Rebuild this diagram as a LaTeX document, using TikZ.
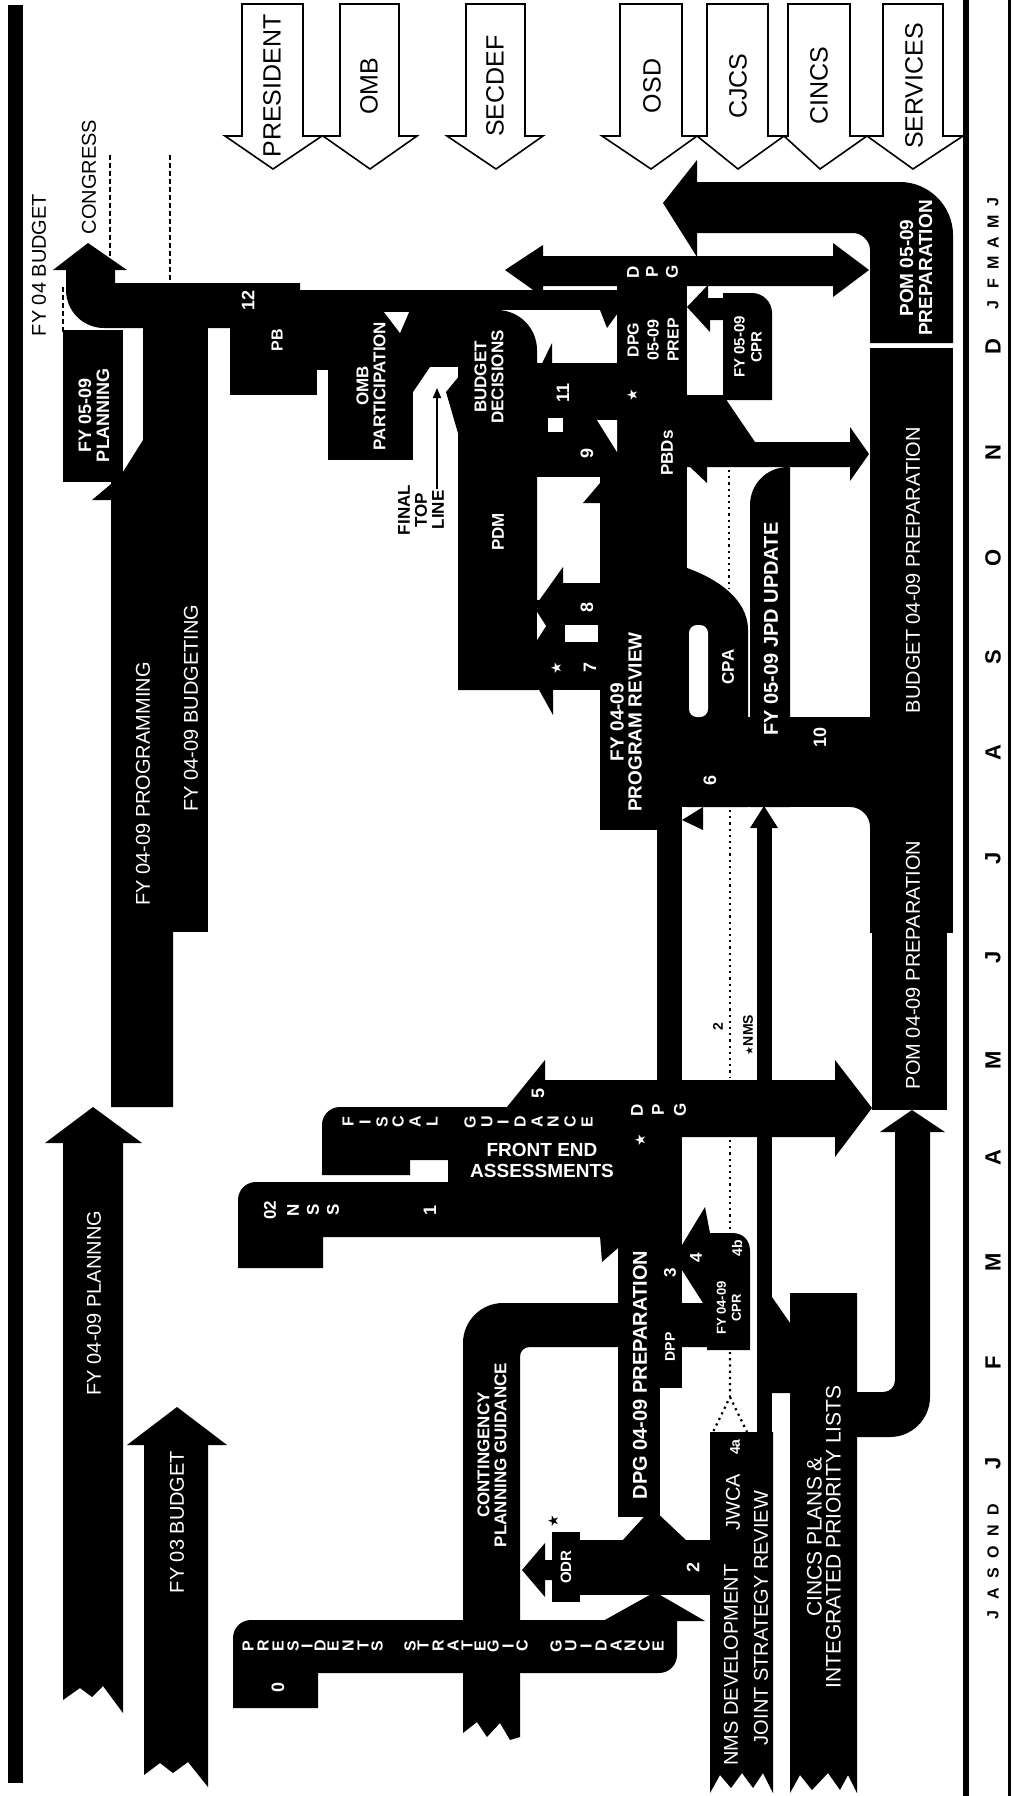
\documentclass[tikz,border=0pt]{standalone}
\usepackage{fontspec}
\setmainfont{Liberation Sans}
\newfontfamily\starfont{DejaVu Sans}
\usetikzlibrary{arrows.meta}
\begin{document}
\begin{tikzpicture}[x=1pt,y=-1pt,
  actor/.style={draw=black,fill=white,line width=1.6pt,line join=miter},
  actorlbl/.style={rotate=90,inner sep=0pt,font=\fontsize{25}{25}\selectfont},
  wb/.style={text=white,rotate=90,inner sep=0pt,align=center,font=\bfseries\fontsize{#1}{#1}\selectfont},
  wr/.style={text=white,rotate=90,inner sep=0pt,align=center,font=\fontsize{#1}{#1}\selectfont},
  kb/.style={text=black,rotate=90,inner sep=0pt,align=center,font=\bfseries\fontsize{#1}{#1}\selectfont},
  kr/.style={text=black,rotate=90,inner sep=0pt,align=center,font=\fontsize{#1}{#1}\selectfont},
  dotline/.style={line width=2.2pt,dash pattern=on 2.2pt off 4pt},
  dashline/.style={line width=1.6pt,dash pattern=on 5pt off 3pt},
]
\fill[white] (0,0) rectangle (1013,1796);
\useasboundingbox (0,0) rectangle (1013,1796);

% frame lines
\fill (8,5) rectangle (23,1783);
\fill (963,0) rectangle (969,1796);
\fill (1008,0) rectangle (1011,1796);

% actor arrows
\draw[actor] (242,4) -- (303,4) -- (303,136) -- (322,136) -- (273,169) -- (225,136) -- (242,136) -- cycle;
\node[actorlbl] (president) at (272,86) {PRESIDENT};
\draw[actor] (340,4) -- (399,4) -- (399,136) -- (417,136) -- (370,169) -- (323,136) -- (340,136) -- cycle;
\node[actorlbl] (omb) at (369,86) {OMB};
\draw[actor] (466,4) -- (525,4) -- (525,136) -- (543,136) -- (496,169) -- (447,136) -- (466,136) -- cycle;
\node[actorlbl] (secdef) at (495,86) {SECDEF};
\draw[actor] (620,4) -- (682,4) -- (682,136) -- (697,136) -- (651,169) -- (602,136) -- (620,136) -- cycle;
\node[actorlbl] (osd) at (652,86) {OSD};
\draw[actor] (707,4) -- (768,4) -- (768,136) -- (784,136) -- (738,169) -- (697,136) -- (707,136) -- cycle;
\node[actorlbl] (cjcs) at (738,86) {CJCS};
\draw[actor] (788,4) -- (850,4) -- (850,136) -- (867,136) -- (820,169) -- (784,136) -- (788,136) -- cycle;
\node[actorlbl] (cincsl) at (819,86) {CINCS};
\draw[actor] (883,4) -- (943,4) -- (943,136) -- (963,136) -- (913,169) -- (867,136) -- (883,136) -- cycle;
\node[actorlbl] (services) at (914,86) {SERVICES};

% CONGRESS arrow and FY 04 budget band
\fill (53,270) -- (88,243) -- (127,270) -- (115,270) -- (115,283) -- (300,283) -- (300,328) -- (104,328) .. controls (83,328) and (66,311) .. (66,290) -- (66,270) -- cycle;
\fill (63,330) rectangle (123,482);
\fill (143,283) rectangle (208,932);
\fill (92,500) -- (111,484) -- (111,482) -- (123,482) -- (123,472) -- (143,440) -- (173,440) -- (173,1107) -- (111,1107) -- (111,500) -- cycle;

% FY 04-09 planning arrow
\fill (45,1143) -- (93,1107) -- (142,1143) -- (123,1143) -- (123,1713) -- (103,1686) -- (92,1697) -- (80,1688) -- (63,1700) -- (63,1143) -- cycle;
% FY 03 budget arrow
\fill (127,1445) -- (177,1407) -- (227,1445) -- (208,1445) -- (208,1787) -- (188,1762) -- (173,1773) -- (160,1763) -- (144,1775) -- (144,1445) -- cycle;

% PB, OMB participation
\fill (230,290) rectangle (317,395);
\fill (230,290) rectangle (617,310);
\fill (317,310) rectangle (328,370);
\fill (328,310) rectangle (413,460);
\fill[white] (384,312) -- (409,312) -- (400,333) -- cycle;
\fill (413,310) rectangle (460,367);
\fill (413,367) -- (430,367) -- (413,392) -- cycle;
\fill (446,392) -- (460,375) -- (460,440) -- cycle;
\fill (600,310) -- (620,310) -- (607,328) -- cycle;

% PDM / budget decisions
\fill (458,690) -- (458,310) -- (497,310) .. controls (519,310) and (537,328) .. (537,350) -- (537,690) -- cycle;
\fill (533,382) -- (552,343) -- (552,382) -- cycle;
\fill (530,363) rectangle (617,477);
\fill (617,285) rectangle (687,372);
\fill (600,363) rectangle (687,807);
\fill (600,700) rectangle (657,830);
\fill[white] (597,420) -- (617,420) -- (617,452) -- cycle;
\fill[white] (548,418) rectangle (563,432);
\fill (537,600) rectangle (600,690);
\fill (538,602) -- (563,567) -- (563,600) -- cycle;
\fill (563,583) rectangle (600,600);
\fill (583,503) -- (600,483) -- (600,503) -- cycle;
\fill[white] (565,625) rectangle (598,642);
\fill[white] (537,612) -- (546,626) -- (537,640) -- cycle;
\fill (538,688) -- (553,715) -- (553,688) -- cycle;

% DPG thin vertical
\fill (657,800) rectangle (682,1080);
\fill (682,820) -- (703,807) -- (703,830) -- cycle;

% big band, CPA loop, JPD update
\fill (600,717) rectangle (953,807);
\fill (687,568) .. controls (715,578) and (748,598) .. (748,630) -- (748,807) -- (687,807) -- cycle;
\fill[white,rounded corners=8pt] (689,625) rectangle (708,717);
\fill (750,807) -- (750,505) .. controls (750,484) and (767,467) .. (788,467) -- (790,467) -- (790,807) -- cycle;
\fill (850,807) -- (870,807) -- (870,827) .. controls (870,816) and (861,807) .. cycle;

% PBDs double arrow and FY 05-09 CPR
\fill (687,395) -- (723,395) -- (755,442) -- (850,442) -- (850,427) -- (869,454) -- (850,481) -- (850,467) -- (687,467) -- cycle;
\fill (707,467) -- (707,483) -- (690,467) -- cycle;
\fill (723,400) -- (723,293) -- (752,293) .. controls (763,293) and (772,302) .. (772,313) -- (772,400) -- cycle;
\fill (687,307) -- (708,285) -- (708,298) -- (723,298) -- (723,320) -- (710,320) -- (710,332) -- cycle;

% DPG double arrow (top)
\fill (505,270) -- (543,245) -- (543,256) -- (833,256) -- (833,243) -- (869,270) -- (833,297) -- (833,286) -- (543,286) -- (543,297) -- cycle;

% POM 05-09 and budget / POM bar
\fill (663,203) -- (697,160) -- (697,182) -- (900,182) .. controls (929,182) and (953,206) .. (953,235) -- (953,343) -- (870,343) -- (870,250) .. controls (870,241) and (862,233) .. (853,233) -- (697,233) -- (697,257) -- cycle;
\fill (870,348) rectangle (953,933);
\fill (872,933) rectangle (947,1110);

% NSS, fiscal guidance, DPG band
\fill (238,1268) -- (238,1200) .. controls (238,1190) and (246,1182) .. (256,1182) -- (655,1182) -- (655,1237) -- (323,1237) -- (323,1268) -- cycle;
\fill (322,1175) -- (322,1125) .. controls (322,1115) and (330,1107) .. (340,1107) -- (507,1107) -- (545,1060) -- (545,1185) -- (448,1185) -- (448,1160) -- (410,1160) -- (410,1175) -- cycle;
\fill (545,1080) -- (835,1080) -- (835,1060) -- (872,1108) -- (835,1157) -- (835,1137) -- (545,1137) -- cycle;
\fill (545,1080) rectangle (682,1237);
\fill (600,1236) -- (618,1236) -- (618,1248) -- (602,1262) -- cycle;

% DPG 04-09 preparation, DPP, 4, CPR
\fill (618,1237) rectangle (660,1517);
\fill (655,1237) rectangle (682,1388);
\fill (682,1245) -- (705,1207) -- (710,1233) -- (710,1303) -- (703,1303) -- (682,1270) -- cycle;
\fill (707,1350) -- (707,1233) -- (732,1233) .. controls (743,1233) and (750,1240) .. (750,1251) -- (750,1350) -- cycle;

% contingency planning guidance
\fill (463,1733) -- (463,1343) .. controls (463,1321) and (481,1303) .. (503,1303) -- (710,1303) -- (710,1347) -- (530,1347) .. controls (524,1347) and (520,1351) .. (520,1357) -- (520,1737) -- (510,1740) -- (500,1723) -- (487,1737) -- (477,1722) -- cycle;

% presidents strategic guidance
\fill (233,1708) -- (233,1638) .. controls (233,1628) and (241,1620) .. (251,1620) -- (677,1620) -- (677,1655) .. controls (677,1665) and (669,1673) .. (659,1673) -- (318,1673) -- (318,1708) -- cycle;

% 2 band, ODR
\fill (580,1540) rectangle (710,1595);
\fill (552,1532) rectangle (580,1602);
\fill (522,1570) -- (545,1543) -- (545,1560) -- (552,1560) -- (552,1580) -- (545,1580) -- (545,1597) -- cycle;
\fill (622,1541) -- (687,1541) -- (652,1508) -- cycle;
\fill (603,1621) -- (705,1621) -- (655,1592) -- cycle;

% NMS development / joint strategy review
\fill (710,1432) -- (773,1432) -- (773,1793) -- (763,1773) -- (753,1788) -- (742,1773) -- (731,1788) -- (720,1775) -- (710,1793) -- cycle;
\fill (757,828) rectangle (772,1432);
\fill (750,828) -- (764,806) -- (778,828) -- cycle;
\fill (772,1297) -- (790,1323) -- (790,1393) -- (772,1393) -- cycle;

% CINCS plans
\fill (790,1293) -- (857,1293) -- (857,1793) -- (848,1775) -- (840,1790) -- (828,1773) -- (812,1790) -- (800,1775) -- (790,1793) -- cycle;
\fill (857,1392) -- (883,1392) .. controls (890,1392) and (895,1387) .. (895,1380) -- (895,1132) -- (880,1132) -- (912,1110) -- (945,1132) -- (930,1132) -- (930,1397) .. controls (930,1419) and (912,1437) .. (890,1437) -- (857,1437) -- cycle;

% dotted and dashed lines
\draw[dotline] (730,810) -- (730,1078);
\draw[dotline] (730,1140) -- (730,1233);
\draw[dotline] (729,470) -- (729,588);
\draw[dotline] (730,1352) -- (730,1397) -- (713,1432);
\draw[dotline] (730,1397) -- (747,1432);
\draw[dashline] (110,155) -- (110,262);
\draw[dashline] (170,155) -- (170,287);
\draw[dashline] (63,287) -- (63,333);

% final top line
\node[kb=17] (ftl) at (421,510) {FINAL\\TOP\\LINE};
\coordinate (ftlstart) at (437,489);
\coordinate (ftlend) at (437,388);
\draw[line width=1.8pt,-{Triangle[length=10pt,width=8pt]}] (ftlstart) -- (ftlend);

% texts: left and top
\node[kr=20] (fy04b) at (39,265) {FY 04 BUDGET};
\node[kr=20] (congress) at (89,177) {CONGRESS};
\node[wb=18] (planning0509) at (94,415) {FY 05-09\\PLANNING};
\node[wr=20] (programming) at (143,784) {FY 04-09 PROGRAMMING};
\node[wr=20] (budgeting) at (191,708) {FY 04-09 BUDGETING};
\node[wr=20] (planning0409) at (94,1303) {FY 04-09 PLANNNG};
\node[wr=20] (fy03) at (177,1522) {FY 03 BUDGET};
\node[wb=18] (n12) at (248,300) {12};
\node[wb=16] (pb) at (277,340) {PB};
\node[wb=17] (ombp) at (371,386) {OMB\\PARTICIPATION};
\node[wb=17] (bdec) at (489,377) {BUDGET\\DECISIONS};
\node[wb=17] (pdm) at (498,532) {PDM};
\node[wb=18] (n11) at (563,393) {11};
\node[wb=18] (n9) at (587,453) {9};
\node[wb=18] (n8) at (587,607) {8};
\node[wb=18] (n7) at (590,667) {7};
\node[wb=14] (star7) at (556,668) {\normalfont\starfont ★};
\node[wb=16,font=\bfseries\fontsize{16}{20}\selectfont] (dpgprep) at (653,340) {DPG\\05-09\\PREP};
\node[wb=14] (stardpg) at (632,395) {\normalfont\starfont ★};
\node[wb=17] (pbds) at (667,453) {PBDs};
\node[wb=15,font=\bfseries\fontsize{15}{17}\selectfont] (cpr0509) at (748,347) {FY 05-09\\CPR};
\foreach \x/\lt [count=\i] in {633/D,652/P,672/G} \node[wb=17] (dpga\i) at (\x,272) {\lt};
\node[wb=19] (pom0509) at (916,268) {POM 05-09\\PREPARATION};
\node[wr=20] (budprep) at (913,570) {BUDGET 04-09 PREPARATION};
\node[wr=20] (pomprep) at (913,965) {POM 04-09 PREPARATION};
\node[wb=19,font=\bfseries\fontsize{19}{18}\selectfont] (progrev) at (626,722) {FY 04-09\\PROGRAM REVIEW};
\node[wb=17] (cpa) at (728,667) {CPA};
\node[wb=20] (jpd) at (771,629) {FY 05-09 JPD UPDATE};
\node[wb=18] (n6) at (710,780) {6};
\node[wb=18] (n10) at (820,737) {10};

% NSS, fiscal guidance, front end
\node[wb=17] (nss02) at (270,1210) {02};
\foreach \x/\lt [count=\i] in {293/N,313/S,333/S} \node[wb=17] (nss\i) at (\x,1210) {\lt};
\node[wb=18] (n1) at (430,1210) {1};
\foreach \x/\lt [count=\i] in {348/F,365/I,382/S,398/C,415/A,432/L,470/G,487/U,503/I,520/D,537/A,553/N,570/C,587/E} \node[wb=16] (fg\i) at (\x,1122) {\lt};
\node[text=white,inner sep=0pt,align=center,font=\bfseries\fontsize{19}{21}\selectfont] (fea) at (542,1160) {FRONT END\\ASSESSMENTS};
\node[wb=18] (n5) at (538,1093) {5};
\foreach \x/\lt [count=\i] in {637/D,658/P,680/G} \node[wb=17] (dpgb\i) at (\x,1110) {\lt};
\node[wb=14] (stardpgb) at (640,1140) {\normalfont\starfont ★};
\node[kb=14] (fn2) at (718,1027) {2};
\node[kb=14] (fnnms) at (748,1035) {{\normalfont\starfont\fontsize{10}{10}\selectfont ★}NMS};

% lower group
\node[wb=17] (n3) at (670,1273) {3};
\node[wb=14] (dpp) at (670,1347) {DPP};
\node[wb=17] (n4) at (696,1258) {4};
\node[wb=14] (n4b) at (737,1248) {4b};
\node[wb=13,font=\bfseries\fontsize{13}{15}\selectfont] (cpr0409) at (729,1308) {FY 04-09\\CPR};
\node[wb=20] (dpg0409) at (640,1375) {DPG 04-09 PREPARATION};
\node[wb=17] (contingency) at (492,1455) {CONTINGENCY\\PLANNING GUIDANCE};
\foreach \x/\lt [count=\i] in {248/P,263/R,278/E,293/S,307/I,320/D,333/E,348/N,363/T,377/S,410/S,423/T,438/R,453/A,467/T,480/E,493/G,508/I,522/C,556/G,571/U,586/I,601/D,616/A,630/N,644/C,658/E} \node[wb=16] (psg\i) at (\x,1646) {\lt};
\node[wb=18] (n0) at (278,1687) {0};
\node[wb=15] (odr) at (566,1567) {ODR};
\node[kb=14] (starodr) at (553,1521) {\normalfont\starfont ★};
\node[wb=18] (n2) at (693,1567) {2};
\node[wr=20] (nmsdev) at (731,1665) {NMS DEVELOPMENT};
\node[wr=20] (jwca) at (733,1502) {JWCA};
\node[wb=14] (n4a) at (735,1447) {4a};
\node[wr=20] (jsr) at (761,1618) {JOINT STRATEGY REVIEW};
\node[wr=21,font=\fontsize{21}{19}\selectfont] (cincs) at (824,1537) {CINCS PLANS \&\\INTEGRATED PRIORITY LISTS};

% months
\foreach \y/\lt [count=\i] in {347/D,453/N,558/O,657/S,753/A,858/J,957/J,1060/M,1158/A,1262/M,1363/F,1463/J} \node[kb=22] (mon\i) at (993,\y) {\lt};
\foreach \y/\lt [count=\i] in {1615/J,1594/A,1573/S,1552/O,1531/N,1510/D,305/J,284/F,263/M,243/A,222/M,202/J} \node[kb=16] (ms\i) at (993,\y) {\lt};
\end{tikzpicture}
\end{document}
